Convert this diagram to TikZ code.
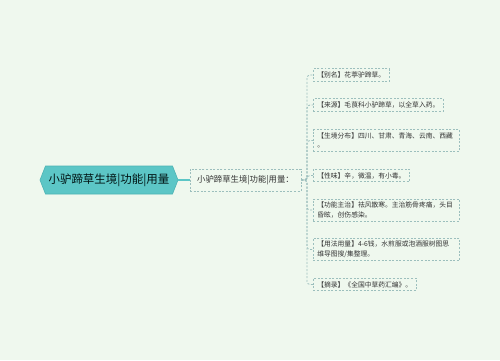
\documentclass[tikz,border=0pt]{standalone}
\usepackage{fontspec}
\setmainfont{Noto Sans CJK SC}
\definecolor{bg}{HTML}{EFF8EE}
\definecolor{rootfill}{HTML}{5CC6C6}
\definecolor{rootline}{HTML}{4DB3B3}
\definecolor{dashc}{HTML}{9CBFBD}
\definecolor{txt}{HTML}{333333}
\tikzset{
  leafbox/.style={draw=dashc, line width=0.8pt, dash pattern=on 2pt off 1.6pt, anchor=west,
    inner xsep=4pt, inner ysep=3pt, align=left, text=txt,
    font=\fontsize{6.8}{9.6}\selectfont},
  midbox/.style={draw=dashc, line width=0.8pt, dash pattern=on 2pt off 1.6pt,
    minimum width=111bp, minimum height=22bp, inner sep=2pt, text=txt,
    font=\fontsize{8.4}{10}\selectfont},
  conn/.style={draw=dashc, line width=0.8pt, dash pattern=on 2pt off 1.6pt, rounded corners=3bp},
}
\begin{document}
\begin{tikzpicture}[x=1bp,y=-1bp]
\fill[bg] (0,0) rectangle (500,360);
\useasboundingbox (0,0) rectangle (500,360);
% root geometry
\coordinate (rc) at (109,180);
\coordinate (rootL) at (40,180);
\coordinate (rootR) at (178,180);
\coordinate (rNW) at (45.5,166);
\coordinate (rNE) at (172.5,166);
\coordinate (rSW) at (45.5,194);
\coordinate (rSE) at (172.5,194);
\filldraw[fill=rootfill, draw=rootline, line width=0.6pt]
  (rootL) -- (rNW) -- (rNE) -- (rootR) -- (rSE) -- (rSW) -- cycle;
\node[inner sep=0pt, text=black!85!teal, font=\fontsize{11.5}{13}\selectfont] (root) at (rc) {小驴蹄草生境|功能|用量};
% mid
\node[midbox] (mid) at (245.5,180) {小驴蹄草生境|功能|用量：};
\draw[rootfill, line width=1.2pt] (rootR) -- (mid.west);
% leaves
\node[leafbox] (l1) at (313,75) {【别名】花葶驴蹄草。};
\node[leafbox] (l2) at (313,105) {【来源】毛茛科小驴蹄草，以全草入药。};
\node[leafbox, text width=138bp] (l3) at (313,140.5) {【生境分布】四川、甘肃、青海、云南、西藏\\。};
\node[leafbox] (l4) at (313,175.5) {【性味】辛，微温，有小毒。};
\node[leafbox, text width=138bp] (l5) at (313,210) {【功能主治】祛风散寒。主治筋骨疼痛，头目\\昏眩，创伤感染。};
\node[leafbox, text width=138bp] (l6) at (313,249.5) {【用法用量】4-6钱，水煎服或泡酒服树图思\\维导图搜/集整理。};
\node[leafbox] (l7) at (313,284.5) {【摘录】《全国中草药汇编》。};
\coordinate (j) at (307,180);
\foreach \n in {l1,l2,l3,l4,l5,l6,l7}{
  \draw[conn] (mid.east) -- (j) |- (\n.west);
}
\end{tikzpicture}
\end{document}
